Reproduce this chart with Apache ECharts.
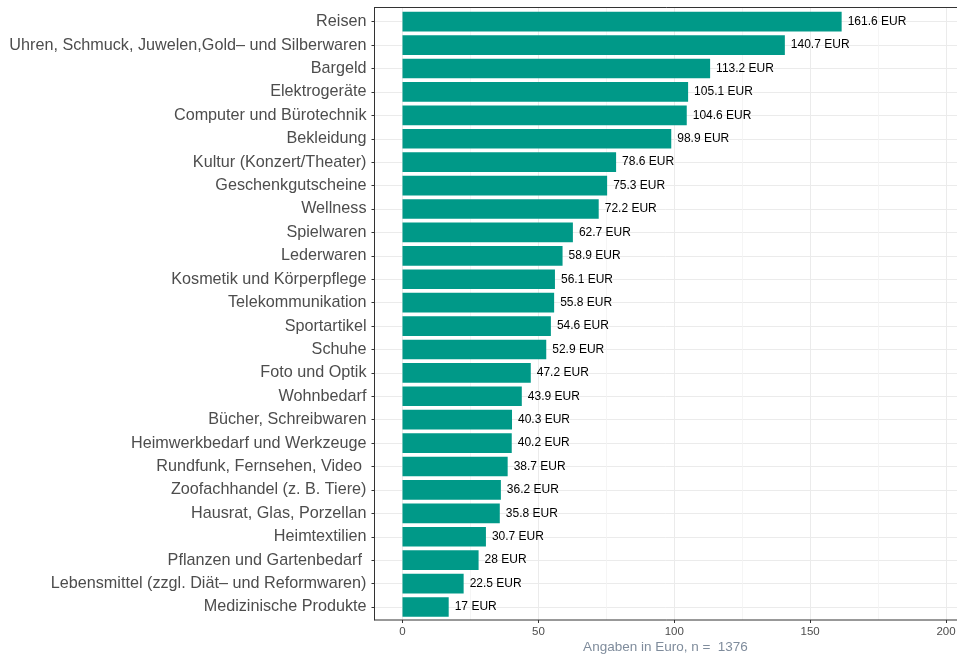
<!DOCTYPE html>
<html><head><meta charset="utf-8">
<script src="https://cdn.jsdelivr.net/npm/echarts@6/dist/echarts.min.js"></script>
<style>html,body{margin:0;padding:0;background:#fff}#c{width:957px;height:654px}</style>
</head><body><div id="c"></div>
<script>
const categories = [
  "Reisen",
  "Uhren, Schmuck, Juwelen,Gold\u2013 und Silberwaren",
  "Bargeld",
  "Elektroger\u00e4te",
  "Computer und B\u00fcrotechnik",
  "Bekleidung",
  "Kultur (Konzert/Theater)",
  "Geschenkgutscheine",
  "Wellness",
  "Spielwaren",
  "Lederwaren",
  "Kosmetik und K\u00f6rperpflege",
  "Telekommunikation",
  "Sportartikel",
  "Schuhe",
  "Foto und Optik",
  "Wohnbedarf",
  "B\u00fccher, Schreibwaren",
  "Heimwerkbedarf und Werkzeuge",
  "Rundfunk, Fernsehen, Video ",
  "Zoofachhandel (z. B. Tiere)",
  "Hausrat, Glas, Porzellan",
  "Heimtextilien",
  "Pflanzen und Gartenbedarf ",
  "Lebensmittel (zzgl. Di\u00e4t\u2013 und Reformwaren)",
  "Medizinische Produkte"
];
const values = [161.6, 140.7, 113.2, 105.1, 104.6, 98.9, 78.6, 75.3, 72.2, 62.7, 58.9, 56.1, 55.8, 54.6, 52.9, 47.2, 43.9, 40.3, 40.2, 38.7, 36.2, 35.8, 30.7, 28, 22.5, 17];
const xMin = 0, xMax = 200, xInterval = 50;
const xAxisTitle = "Angaben in Euro, n =  1376";
const valueSuffix = " EUR";

const FONT = "Liberation Sans, Arial, Helvetica, sans-serif";
const BORDER = '#333333';
function hidden(extra) {
  return Object.assign({axisLine: {show: false, onZero: false}, axisTick: {show: false}, axisLabel: {show: false}, splitLine: {show: false}}, extra);
}
const G = {outerBoundsMode: 'none', containLabel: false};
const chart = echarts.init(document.getElementById('c'), null, {renderer: 'canvas'});
chart.setOption({
  animation: false,
  backgroundColor: '#fff',
  textStyle: {fontFamily: FONT},
  grid: [
    // 0: panel frame + axis title (right edge falls just outside the canvas, as in the reference)
    Object.assign({left: 374.5, top: 7.5, width: 584, height: 612.5, show: true, z: 50, borderColor: BORDER, borderWidth: 1, backgroundColor: 'rgba(0,0,0,0)'}, G),
    // 1: value axis ticks, labels, vertical grid lines
    Object.assign({left: 402.5, top: 7.5, width: 543.5, height: 612.5}, G),
    // 2: category labels, ticks, horizontal grid lines
    Object.assign({left: 374.5, top: 10, width: 582.5, height: 608.7}, G),
    // 3: bars
    Object.assign({left: 402.5, top: 10, width: 543.5, height: 608.7}, G)
  ],
  graphic: [{
    type: 'line', z: 100, silent: true,
    shape: {x1: 374.5, y1: 7, x2: 374.5, y2: 620.5},
    style: {stroke: BORDER, lineWidth: 1}
  }],
  xAxis: [
    {
      gridIndex: 0, type: 'value', min: 0, max: 1, position: 'bottom',
      axisLine: {show: false, onZero: false},
      axisTick: {show: false}, axisLabel: {show: false}, splitLine: {show: false},
      name: xAxisTitle, nameLocation: 'middle', nameGap: 20,
      nameTextStyle: {color: '#7F8C9C', fontSize: 13.5, fontFamily: FONT, padding: [0, 2, 0, 0]}
    },
    {
      gridIndex: 1, type: 'value', min: xMin, max: xMax, interval: xInterval, position: 'bottom',
      axisLine: {show: false, onZero: false},
      axisTick: {show: true, length: 3, lineStyle: {color: BORDER}},
      axisLabel: {show: true, color: '#4D4D4D', fontSize: 11.5, margin: 6, fontFamily: FONT},
      splitLine: {show: true, lineStyle: {color: '#EBEBEB', width: 1}},
      minorTick: {show: false, splitNumber: 2},
      minorSplitLine: {show: true, lineStyle: {color: '#F3F3F3', width: 0.8}}
    },
    hidden({gridIndex: 2, type: 'value', min: 0, max: 1}),
    hidden({gridIndex: 3, type: 'value', min: xMin, max: xMax})
  ],
  yAxis: [
    hidden({gridIndex: 0, type: 'value', min: 0, max: 1}),
    hidden({gridIndex: 1, type: 'value', min: 0, max: 1}),
    {
      gridIndex: 2, type: 'category', inverse: true, data: categories, position: 'left',
      axisLine: {show: true, onZero: false, lineStyle: {color: BORDER, width: 1}},
      axisTick: {show: true, alignWithLabel: true, length: 3, lineStyle: {color: BORDER}},
      axisLabel: {color: '#4D4D4D', fontSize: 16.2, margin: 8, fontFamily: FONT, interval: 0},
      splitLine: {show: true, alignWithLabel: true, lineStyle: {color: '#EBEBEB', width: 1}}
    },
    hidden({gridIndex: 3, type: 'category', inverse: true, data: categories})
  ],
  series: [{
    type: 'bar', xAxisIndex: 3, yAxisIndex: 3,
    data: values, barWidth: '84%',
    itemStyle: {color: '#009988'},
    label: {show: true, position: 'right', distance: 6, color: '#000000', fontSize: 12, fontFamily: FONT,
      formatter: p => p.value + valueSuffix}
  }]
});
</script></body></html>
